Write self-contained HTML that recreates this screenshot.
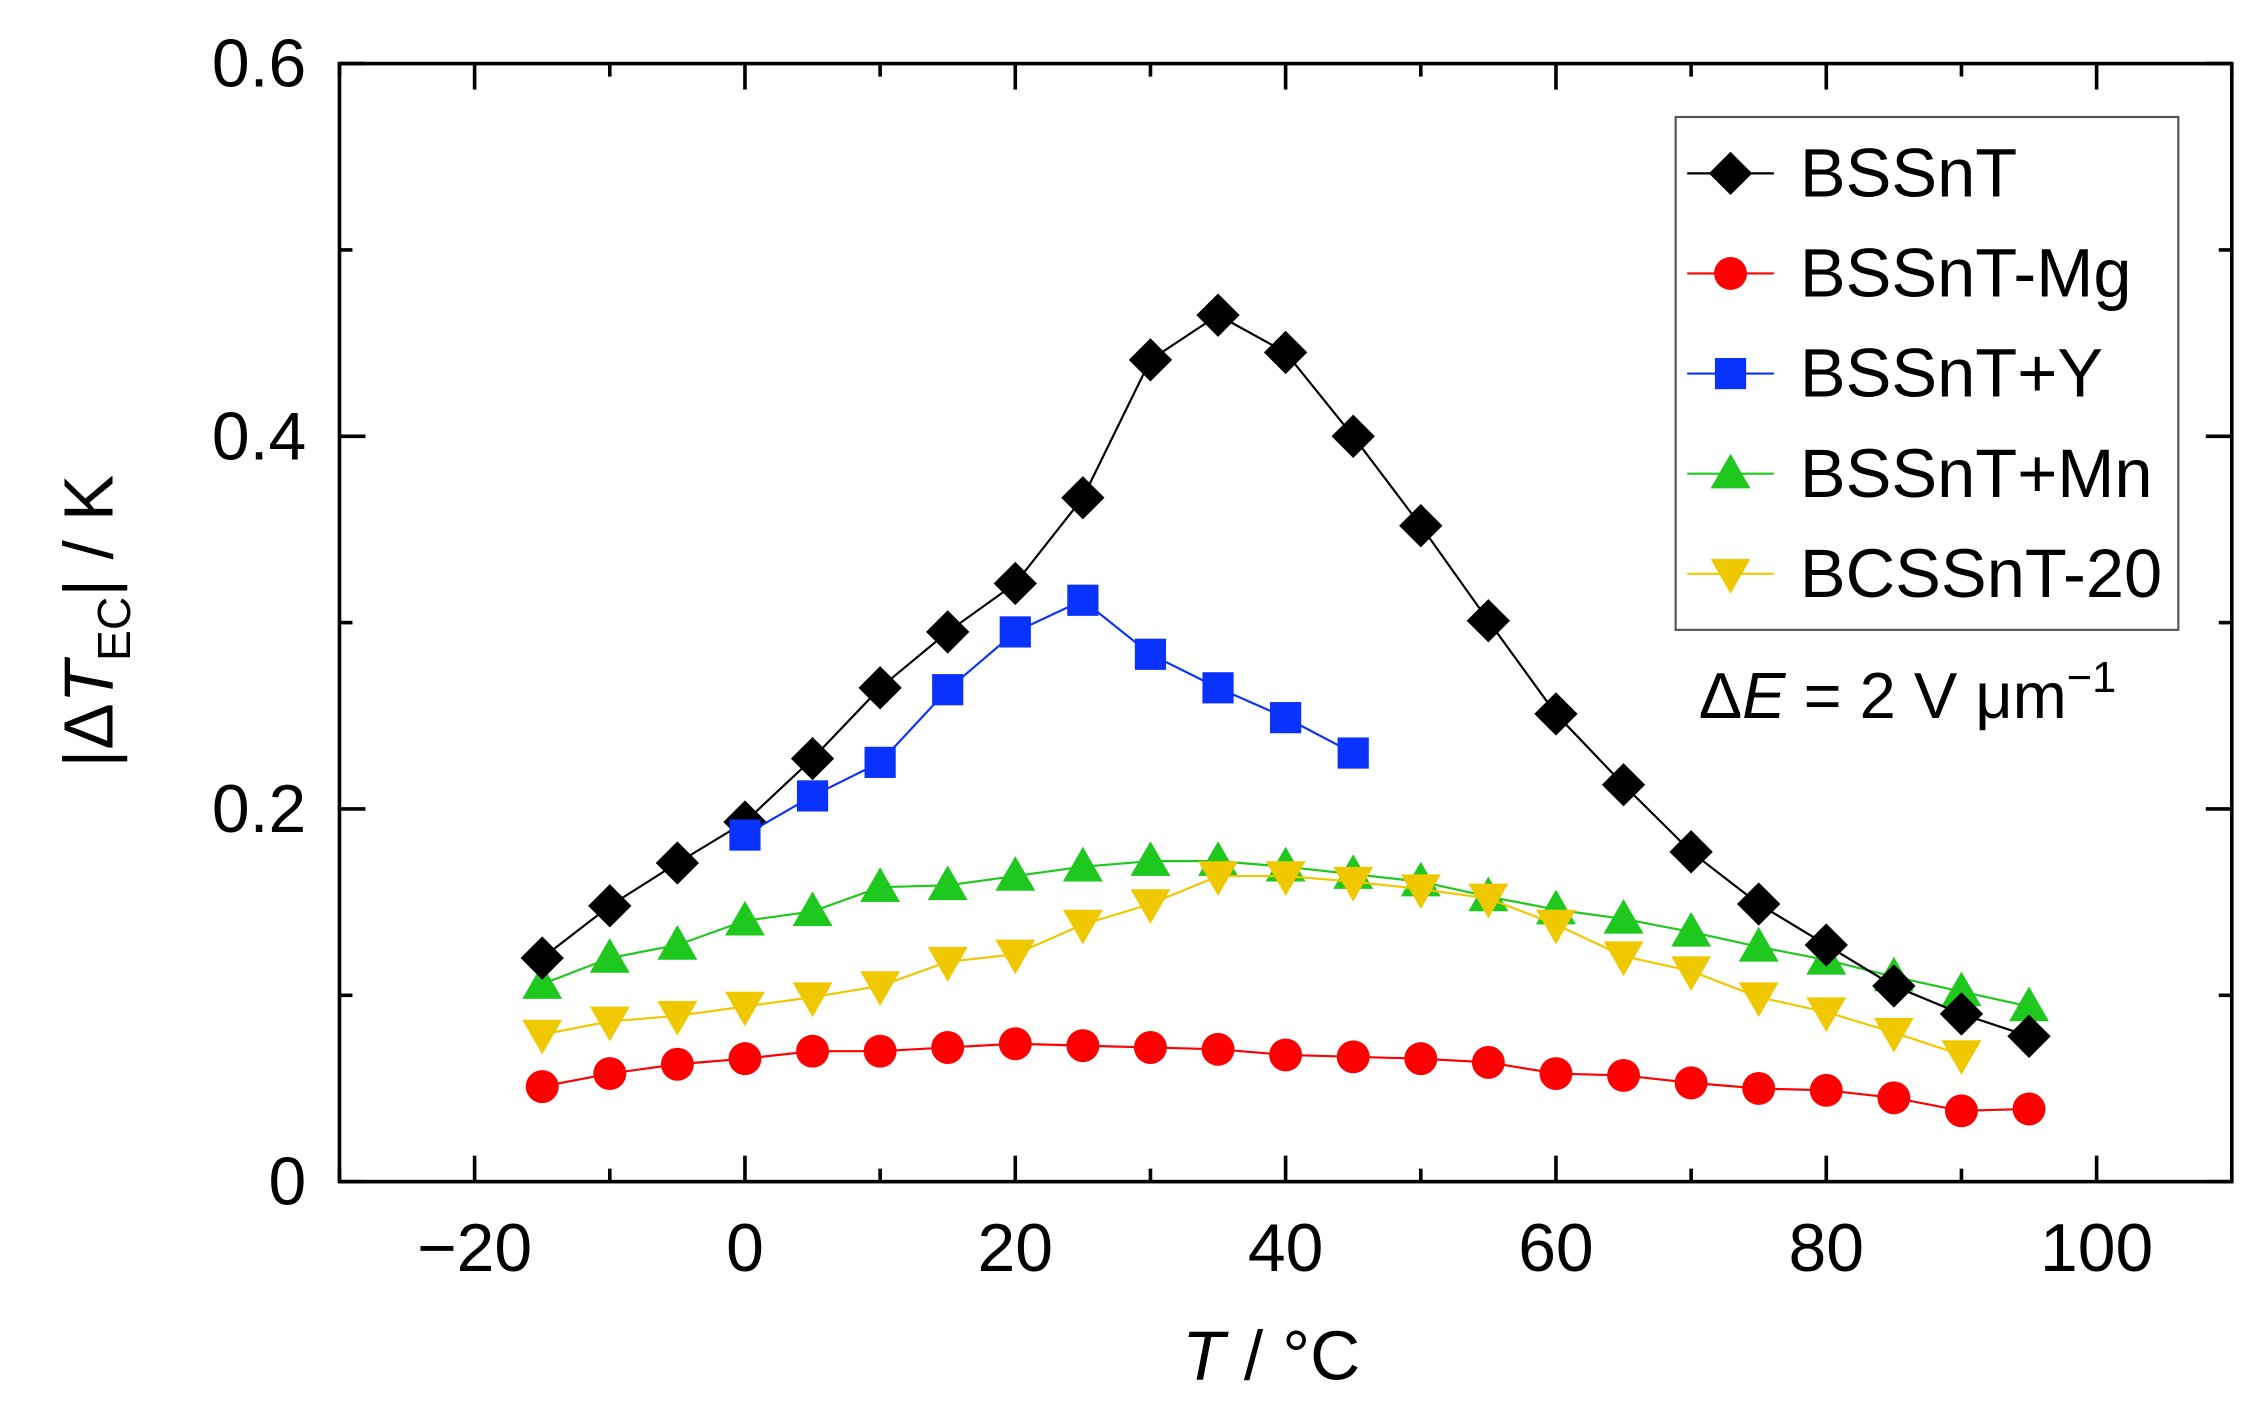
<!DOCTYPE html>
<html><head><meta charset="utf-8"><style>
html,body{margin:0;padding:0;background:#fff}
svg{display:block}
text{font-family:"Liberation Sans","DejaVu Sans",sans-serif;fill:#000}
</style></head><body>
<svg id="chart" width="2265" height="1406" viewBox="0 0 1568 973.3" xmlns="http://www.w3.org/2000/svg">
<rect width="1568" height="973.3" fill="#fff"/>
<g id="ticks"></g>
<g id="series"></g>
<rect x="235" y="44" width="1310" height="774" fill="none" stroke="#000" stroke-width="2.5"/>
<g id="labels"></g>
<text x="880" y="955" font-size="48" text-anchor="middle"><tspan font-style="italic">T</tspan> / °C</text>
<text transform="translate(78,430) rotate(-90)" font-size="48" text-anchor="middle">|Δ<tspan font-style="italic">T</tspan><tspan font-size="32" dy="12">EC</tspan><tspan dy="-12">| / K</tspan></text>
<g>
<rect x="1160" y="81" width="348" height="355" fill="#fff" stroke="#555" stroke-width="1.5"/>
<g id="legend-items"></g>
</g>
<text x="1176" y="497" font-size="45">Δ<tspan font-style="italic">E</tspan> = 2 V μm<tspan font-size="30" dy="-18">−1</tspan></text>
</svg>
<script>
const temps = [-15,-10,-5,0,5,10,15,20,25,30,35,40,45,50,55,60,65,70,75,80,85,90,95];
const bssnt = [0.120,0.148,0.171,0.193,0.227,0.265,0.295,0.321,0.367,0.441,0.465,0.445,0.400,0.352,0.301,0.251,0.213,0.177,0.149,0.127,0.105,0.090,0.078];
const bssntMg = [0.051,0.058,0.063,0.066,0.070,0.070,0.072,0.074,0.073,0.072,0.071,0.068,0.067,0.066,0.064,0.058,0.057,0.053,0.050,0.049,0.045,0.038,0.039];
const tempsY = [0,5,10,15,20,25,30,35,40,45];
const bssntY = [0.186,0.207,0.225,0.264,0.295,0.312,0.283,0.265,0.249,0.230];
const bssntMn = [0.106,0.120,0.127,0.140,0.145,0.158,0.159,0.164,0.169,0.172,0.172,0.169,0.165,0.161,0.153,0.146,0.141,0.134,0.126,0.119,0.110,0.102,0.094];
const tempsB = [-15,-10,-5,0,5,10,15,20,25,30,35,40,45,50,55,60,65,70,75,80,85,90];
const bcssnt = [0.079,0.086,0.089,0.094,0.099,0.105,0.118,0.122,0.138,0.149,0.164,0.164,0.161,0.157,0.152,0.138,0.121,0.113,0.099,0.091,0.080,0.068];
const xTicks = [-20,0,20,40,60,80,100];
const yTicks = [0,0.2,0.4,0.6];
const yTickLabels = ["0","0.2","0.4","0.6"];
const seriesNames = ["BSSnT","BSSnT-Mg","BSSnT+Y","BSSnT+Mn","BCSSnT-20"];

const NS="http://www.w3.org/2000/svg";
const X0=235,X1=1545,Y0=818,Y1=44,xmin=-30,xmax=110,ymin=0,ymax=0.6;
const sx=v=>X0+(v-xmin)/(xmax-xmin)*(X1-X0);
const sy=v=>Y0-(v-ymin)/(ymax-ymin)*(Y0-Y1);
function mk(tag,attrs,parent){const e=document.createElementNS(NS,tag);for(const k in attrs)e.setAttribute(k,attrs[k]);parent.appendChild(e);return e;}
const tg=document.getElementById('ticks'),lg=document.getElementById('labels');
for(let v=-30;v<=110;v+=10){const x=sx(v);const L=(v%20===0)?18:9;
 let t=mk('line',{x1:x,x2:x,y1:Y0,y2:Y0-L,stroke:'#000','stroke-width':2.5},tg);
 
 t=mk('line',{x1:x,x2:x,y1:Y1,y2:Y1+L,stroke:'#000','stroke-width':2.5},tg);
 }
for(let i=0;i<=6;i++){const v=i*0.1;const y=sy(v);const L=(i%2===0)?18:9;
 let t=mk('line',{x1:X0,x2:X0+L,y1:y,y2:y,stroke:'#000','stroke-width':2.5},tg);
 
 t=mk('line',{x1:X1,x2:X1-L,y1:y,y2:y,stroke:'#000','stroke-width':2.5},tg);
 }
xTicks.forEach(v=>{const t=mk('text',{x:sx(v),y:880,'font-size':47,'text-anchor':'middle'},lg);t.textContent=v<0?'−'+(-v):String(v);
 });
yTicks.forEach((v,i)=>{const t=mk('text',{x:212,y:sy(v)+16,'font-size':47,'text-anchor':'end'},lg);t.textContent=yTickLabels[i];
 });

function marker(shape,x,y,color,g){const s=12;let e;
 if(shape==='diamond')e=mk('polygon',{points:`${x},${y-s*1.25} ${x+s*1.25},${y} ${x},${y+s*1.25} ${x-s*1.25},${y}`,fill:color},g);
 else if(shape==='circle')e=mk('circle',{cx:x,cy:y,r:s*0.95,fill:color},g);
 else if(shape==='square')e=mk('rect',{x:x-s*0.9,y:y-s*0.9,width:s*1.8,height:s*1.8,fill:color},g);
 else if(shape==='up')e=mk('polygon',{points:`${x},${y-s*1.15} ${x+s*1.15},${y+s*0.85} ${x-s*1.15},${y+s*0.85}`,fill:color},g);
 else e=mk('polygon',{points:`${x},${y+s*1.15} ${x+s*1.15},${y-s*0.85} ${x-s*1.15},${y-s*0.85}`,fill:color},g);
 return e;}
const defs=[
 {xs:temps,ys:bssntMg,shape:'circle',color:'#ff0000',line:'#ff0000'},
 {xs:temps,ys:bssntMn,shape:'up',color:'#1ec81e',line:'#1ec81e'},
 {xs:tempsB,ys:bcssnt,shape:'down',color:'#f0c800',line:'#f0c800'},
 {xs:temps,ys:bssnt,shape:'diamond',color:'#000',line:'#000'},
 {xs:tempsY,ys:bssntY,shape:'square',color:'#0a32ff',line:'#0a32ff'}];
const sg=document.getElementById('series');
defs.forEach(d=>{const g=mk('g',{},sg);
 
 const pts=d.xs.map((x,i)=>sx(x)+','+sy(d.ys[i])).join(' ');
 const pl=mk('polyline',{points:pts,fill:'none',stroke:d.line,'stroke-width':1.5},g);
 
 d.xs.forEach((x,i)=>{const m=marker(d.shape,sx(x),sy(d.ys[i]),d.color,g);
  });});
const li=document.getElementById('legend-items');
const legOrder=[{shape:'diamond',color:'#000'},{shape:'circle',color:'#ff0000'},{shape:'square',color:'#0a32ff'},{shape:'up',color:'#1ec81e'},{shape:'down',color:'#f0c800'}];
legOrder.forEach((d,i)=>{const y=120+i*69.3;const g=mk('g',{},li);
 
 mk('line',{x1:1168,x2:1228,y1:y,y2:y,stroke:d.color,'stroke-width':1.5},g);
 marker(d.shape,1198,y,d.color,g);
 const t=mk('text',{x:1246,y:y+16,'font-size':47.5},g);t.textContent=seriesNames[i];
 });
</script>
</body></html>
